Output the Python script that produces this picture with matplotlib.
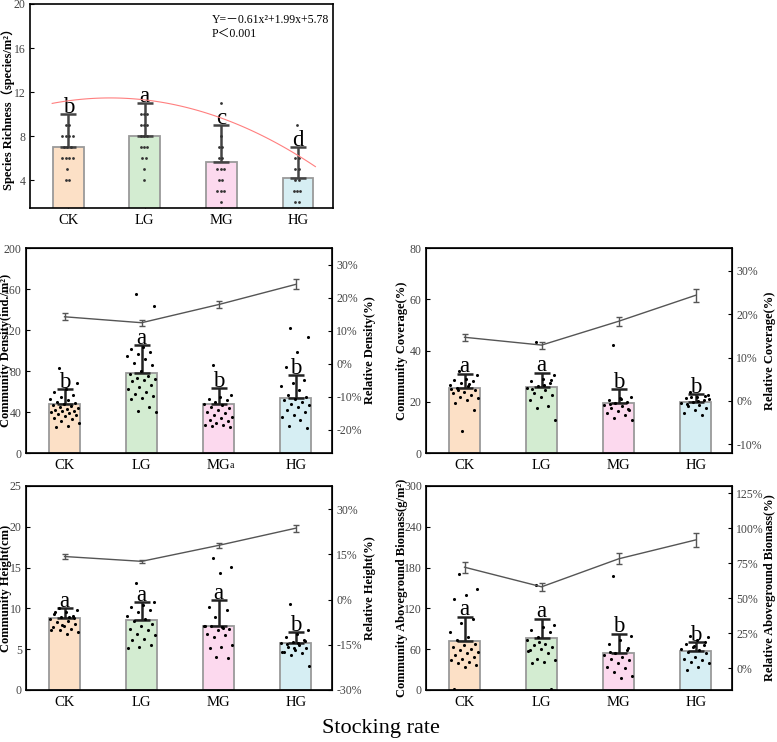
import numpy as np
import matplotlib
matplotlib.use("Agg")
import matplotlib.pyplot as plt

plt.rcParams['font.family'] = ['Liberation Serif', 'Noto Sans CJK SC', 'DejaVu Sans']
plt.rcParams['mathtext.fontset'] = 'stix'

groups = ["CK", "LG", "MG", "HG"]
bar_colors = ["#FCE0C6", "#D3ECD1", "#FCD9EE", "#D6EEF3"]

# ---- Species richness ----
rich_mean = [7.0, 8.0, 5.65, 4.25]
rich_err = [3.0, 3.0, 3.35, 2.75]
rich_letters = ["b", "a", "c", "d"]
rich_pts = [
    [9, 9, 8, 8, 8, 8, 7, 7, 7, 6, 6, 6, 6, 5, 4, 4],
    [10, 10, 10, 9, 9, 9, 8, 8, 8, 7, 7, 7, 6, 6, 5, 4],
    [11, 8, 7, 7, 6, 6, 5, 5, 5, 4, 4, 3, 3, 3, 2],
    [9, 6, 6, 5, 5, 4, 4, 3, 3, 3, 2, 2],
]
curve_x = [-0.21, 0.5, 1.0, 2.0, 3.0, 3.23]
curve_y = [11.0, 11.45, 11.3, 9.7, 6.2, 5.3]

# ---- Density ----
dens_mean = [48, 78, 48, 54]
dens_err = [14, 27, 15, 22]
dens_letters = ["b", "a", "b", "b"]
dens_pts = [
    [83, 68, 62, 60, 57, 55, 53, 52, 50, 49, 48, 47, 46, 45, 44, 43, 42, 41, 41, 40,
     39, 38, 37, 36, 34, 33, 31, 29, 26, 25],
    [155, 143, 103, 101, 99, 97, 95, 92, 88, 86, 80, 77, 75, 73, 72, 71, 70, 66, 64,
     62, 60, 58, 56, 54, 53, 45, 41, 40],
    [86, 57, 55, 53, 52, 50, 48, 47, 45, 44, 42, 40, 39, 37, 35, 34, 32, 31, 29, 27,
     27, 26, 25],
    [122, 113, 99, 84, 71, 68, 65, 61, 57, 55, 53, 52, 50, 48, 47, 45, 42, 40, 37, 35,
     32, 26, 24],
]
dens_rel = [14.2, 12.4, 17.9, 24.0]
dens_rel_err = [1.0, 0.9, 1.1, 1.5]

# ---- Coverage ----
cov_mean = [25.5, 25.6, 19.6, 20.0]
cov_err = [5.5, 5.8, 5.4, 3.0]
cov_letters = ["a", "a", "b", "b"]
cov_pts = [
    [32, 30.6, 29, 28.6, 28, 27.3, 26.7, 26, 25.4, 24.7, 24, 23.4, 22.7, 22, 21.4,
     20.8, 19.5, 16.9, 8.4, 25, 27, 24.5],
    [43.5, 30.6, 29, 28, 27.3, 26, 25.4, 24.7, 23.4, 22.7, 22, 20.8, 18.2, 17.5, 12.9,
     26.5, 25, 28.5],
    [42, 22, 21.4, 20.8, 20, 19.5, 18.8, 18.2, 17.5, 16.9, 16.2, 15.6, 14.9, 13.6,
     12.9, 21, 19, 17],
    [24, 22.7, 22, 21.4, 20.8, 20, 19.5, 18.8, 18.2, 17.5, 16.9, 15.6, 14.9, 21.8,
     21, 20.3, 19, 22.2],
]
cov_rel = [14.7, 12.9, 18.4, 24.4]
cov_rel_err = [0.8, 0.8, 1.0, 1.5]

# ---- Height ----
hgt_mean = [8.8, 8.6, 7.9, 5.8]
hgt_err = [1.2, 2.2, 3.1, 1.3]
hgt_letters = ["a", "a", "a", "b"]
hgt_pts = [
    [10, 9.8, 9.6, 9.3, 9.1, 8.9, 8.7, 8.5, 8.3, 8.1, 7.9, 7.7, 7.5, 7.3, 7.1, 6.9,
     9.5, 8.8, 8.0, 7.4, 9.0],
    [13.1, 10.8, 10.4, 10.2, 9.8, 9.6, 9.1, 8.7, 8.5, 8.1, 7.9, 7.5, 7.3, 6.9, 6.7,
     6.3, 6.1, 5.5, 5.3, 5.1],
    [16.2, 15.1, 14.3, 10.2, 9.8, 8.9, 7.9, 7.7, 7.8, 7.5, 7.3, 6.9, 6.7, 6.5, 5.5,
     5.3, 5.1, 3.9, 4.1, 7.9, 7.6],
    [10.6, 7.3, 6.9, 6.5, 6.1, 5.9, 5.7, 5.5, 5.3, 5.1, 4.9, 4.7, 4.5, 4.3, 3.0,
     5.8, 5.6, 6.0, 5.2, 4.6],
]
hgt_rel = [14.3, 12.7, 18.0, 23.7]
hgt_rel_err = [0.7, 0.6, 0.8, 1.2]

# ---- Biomass ----
bio_mean = [72, 77, 54, 57]
bio_err = [36, 28, 29, 13]
bio_letters = ["a", "a", "b", "b"]
bio_pts = [
    [171, 149, 139, 134, 105, 98, 85, 78, 73, 68, 66, 63, 61, 59, 56, 54, 51, 49, 46,
     44, 41, 39, 37, 34, 2],
    [154, 95, 93, 88, 85, 78, 73, 68, 66, 63, 61, 59, 54, 46, 44, 41, 39, 2, 70, 57],
    [168, 80, 73, 68, 59, 54, 51, 49, 46, 44, 39, 34, 32, 27, 20, 17, 56, 62],
    [80, 78, 73, 68, 66, 63, 61, 59, 56, 54, 49, 46, 44, 41, 39, 34, 29, 70, 64],
]
bio_rel = [72, 58, 78, 91.5]
bio_rel_err = [4, 3, 4, 5]

W, H = 777, 742
fig = plt.figure(figsize=(W / 100, H / 100), dpi=100)


def axbox(l, t, r, b):
    return fig.add_axes([l / W, 1 - b / H, (r - l) / W, (b - t) / H])


x = np.arange(4)
BAR_W = 0.4
TICK_COL = "#444444"
LETTER_FS = 16.5


def jitter(n):
    return [((i * 0.61803398875 + 0.3) % 1 - 0.5) * 0.38 for i in range(n)]


def style_ax(ax, yticks, ylim):
    ax.set_xlim(-0.5, 3.47)
    ax.set_ylim(*ylim)
    ax.set_yticks(yticks)
    ax.set_xticks(x)
    ax.set_xticklabels(groups, fontsize=10.5)
    ax.tick_params(axis='x', direction='in', length=3, pad=4, colors='black')
    ax.tick_params(axis='y', direction='in', length=3, labelsize=8.5,
                   labelcolor=TICK_COL, pad=3)
    for s in ax.spines.values():
        s.set_linewidth(1.2)


def bar_panel(ax, means, errs, letters, pts, yticks, ylim, ylabel, letter_pad,
              label_x, dot_col='black', dot_s=5, err_col='#222222'):
    ax.bar(x, means, width=BAR_W, color=bar_colors, edgecolor='#9a9a9a',
           linewidth=1.3, zorder=2)
    ax.errorbar(x, means, yerr=[np.zeros(4), errs], fmt='none', ecolor=err_col,
                elinewidth=1.8, capsize=6, capthick=1.8, zorder=3)
    for i, p in enumerate(pts):
        ax.scatter(x[i] + np.array(jitter(len(p))), p, s=dot_s, color=dot_col,
                   zorder=4, linewidths=0)
    for i in range(4):
        ax.text(x[i], means[i] + errs[i] + letter_pad, letters[i], ha='center',
                va='bottom', fontsize=LETTER_FS, zorder=5)
    style_ax(ax, yticks, ylim)
    ax.set_ylabel(ylabel, fontsize=9, fontweight='bold')
    ax.yaxis.set_label_coords(label_x, 0.5)


def twin_line(ax, rel, rel_err, rticks, rlim, rlabel):
    ax2 = ax.twinx()
    ax2.errorbar(x, rel, yerr=rel_err, color='#555555', lw=1, elinewidth=1,
                 capsize=2.5, capthick=1, zorder=3)
    ax2.set_ylim(*rlim)
    ax2.set_yticks(rticks)
    ax2.set_yticklabels([f"{t}%" for t in rticks])
    ax2.tick_params(axis='y', direction='in', length=3, labelsize=8.5,
                    labelcolor=TICK_COL, pad=3)
    ax2.set_ylabel(rlabel, fontsize=9, fontweight='bold', rotation=90)
    ax2.yaxis.set_label_coords(1.105, 0.5)
    return ax2


# Top panel: species richness
ax0 = axbox(30, 4, 333, 208)
ax0.bar(x, rich_mean, width=BAR_W, color=bar_colors, edgecolor='#9a9a9a',
        linewidth=1.3, zorder=2)
ax0.errorbar(x, rich_mean, yerr=[np.zeros(4), rich_err], fmt='none',
             ecolor='#444444', elinewidth=1.8, capsize=6, capthick=1.8, zorder=3)
for i, p in enumerate(rich_pts):
    vals = np.array(p, dtype=float)
    offs = np.zeros(len(vals))
    for v in np.unique(vals):
        idx = np.where(vals == v)[0]
        n = len(idx)
        offs[idx] = (np.arange(n) - (n - 1) / 2) * 0.045 - 0.01
    ax0.scatter(x[i] + offs, vals, s=4, color='#333333', zorder=4, linewidths=0)
for i in range(4):
    ax0.text(x[i], rich_mean[i] + rich_err[i] - 0.3, rich_letters[i], ha='center',
             va='bottom', fontsize=LETTER_FS, zorder=5)
cfit = np.polyfit(curve_x, curve_y, 2)
cx = np.linspace(min(curve_x), max(curve_x), 100)
ax0.plot(cx, np.polyval(cfit, cx), color='#FF7F7F', lw=0.8, zorder=5)
style_ax(ax0, [4, 8, 12, 16, 20], (1.5, 20))
ax0.set_xlim(-0.5, 3.46)
ax0.set_ylabel("Species Richness（species/m²）", fontsize=9, fontweight='bold')
ax0.yaxis.set_label_coords(-0.05, 0.5)
ax0.text(0.60, 0.92, "Y=－0.61x²+1.99x+5.78", transform=ax0.transAxes,
         fontsize=8.5, va='center', ha='left')
ax0.text(0.60, 0.855, "P＜0.001", transform=ax0.transAxes, fontsize=8.5,
         va='center', ha='left')

# Middle-left: density
ax1 = axbox(26, 248, 332, 453)
bar_panel(ax1, dens_mean, dens_err, dens_letters, dens_pts,
          [0, 40, 80, 120, 160, 200], (0, 200), "Community Density(ind./m²)", -3.5,
          -0.045)
twin_line(ax1, dens_rel, dens_rel_err, [-20, -10, 0, 10, 20, 30], (-27, 35),
          "Relative Density(%)")
fig.text(232 / W, 1 - 465 / H, "a", fontsize=7, ha='center', va='center')

# Middle-right: coverage
ax2 = axbox(426, 248, 732, 453)
bar_panel(ax2, cov_mean, cov_err, cov_letters, cov_pts,
          [0, 20, 40, 60, 80], (0, 80), "Community Coverage(%)", -1.4, -0.058)
twin_line(ax2, cov_rel, cov_rel_err, [-10, 0, 10, 20, 30], (-12, 35.3),
          "Relative Coverage(%)")

# Bottom-left: height
ax3 = axbox(26, 486, 332, 690)
bar_panel(ax3, hgt_mean, hgt_err, hgt_letters, hgt_pts,
          [0, 5, 10, 15, 20, 25], (0, 25), "Community Height(cm)", -0.45, -0.045)
twin_line(ax3, hgt_rel, hgt_rel_err, [-30, -15, 0, 15, 30], (-30, 37.7),
          "Relative Height(%)")

# Bottom-right: biomass
ax4 = axbox(426, 486, 732, 690)
bar_panel(ax4, bio_mean, bio_err, bio_letters, bio_pts,
          [0, 60, 120, 180, 240, 300], (0, 300),
          "Community Aboveground Biomass(g/m²)", -5.5, -0.058)
twin_line(ax4, bio_rel, bio_rel_err, [0, 25, 50, 75, 100, 125], (-15.7, 130),
          "Relative Aboveground Biomass(%)")

fig.text(381 / W, 1 - 728 / H, "Stocking rate", fontsize=16, ha='center',
         va='center')

fig.savefig("out.png", dpi=100)
